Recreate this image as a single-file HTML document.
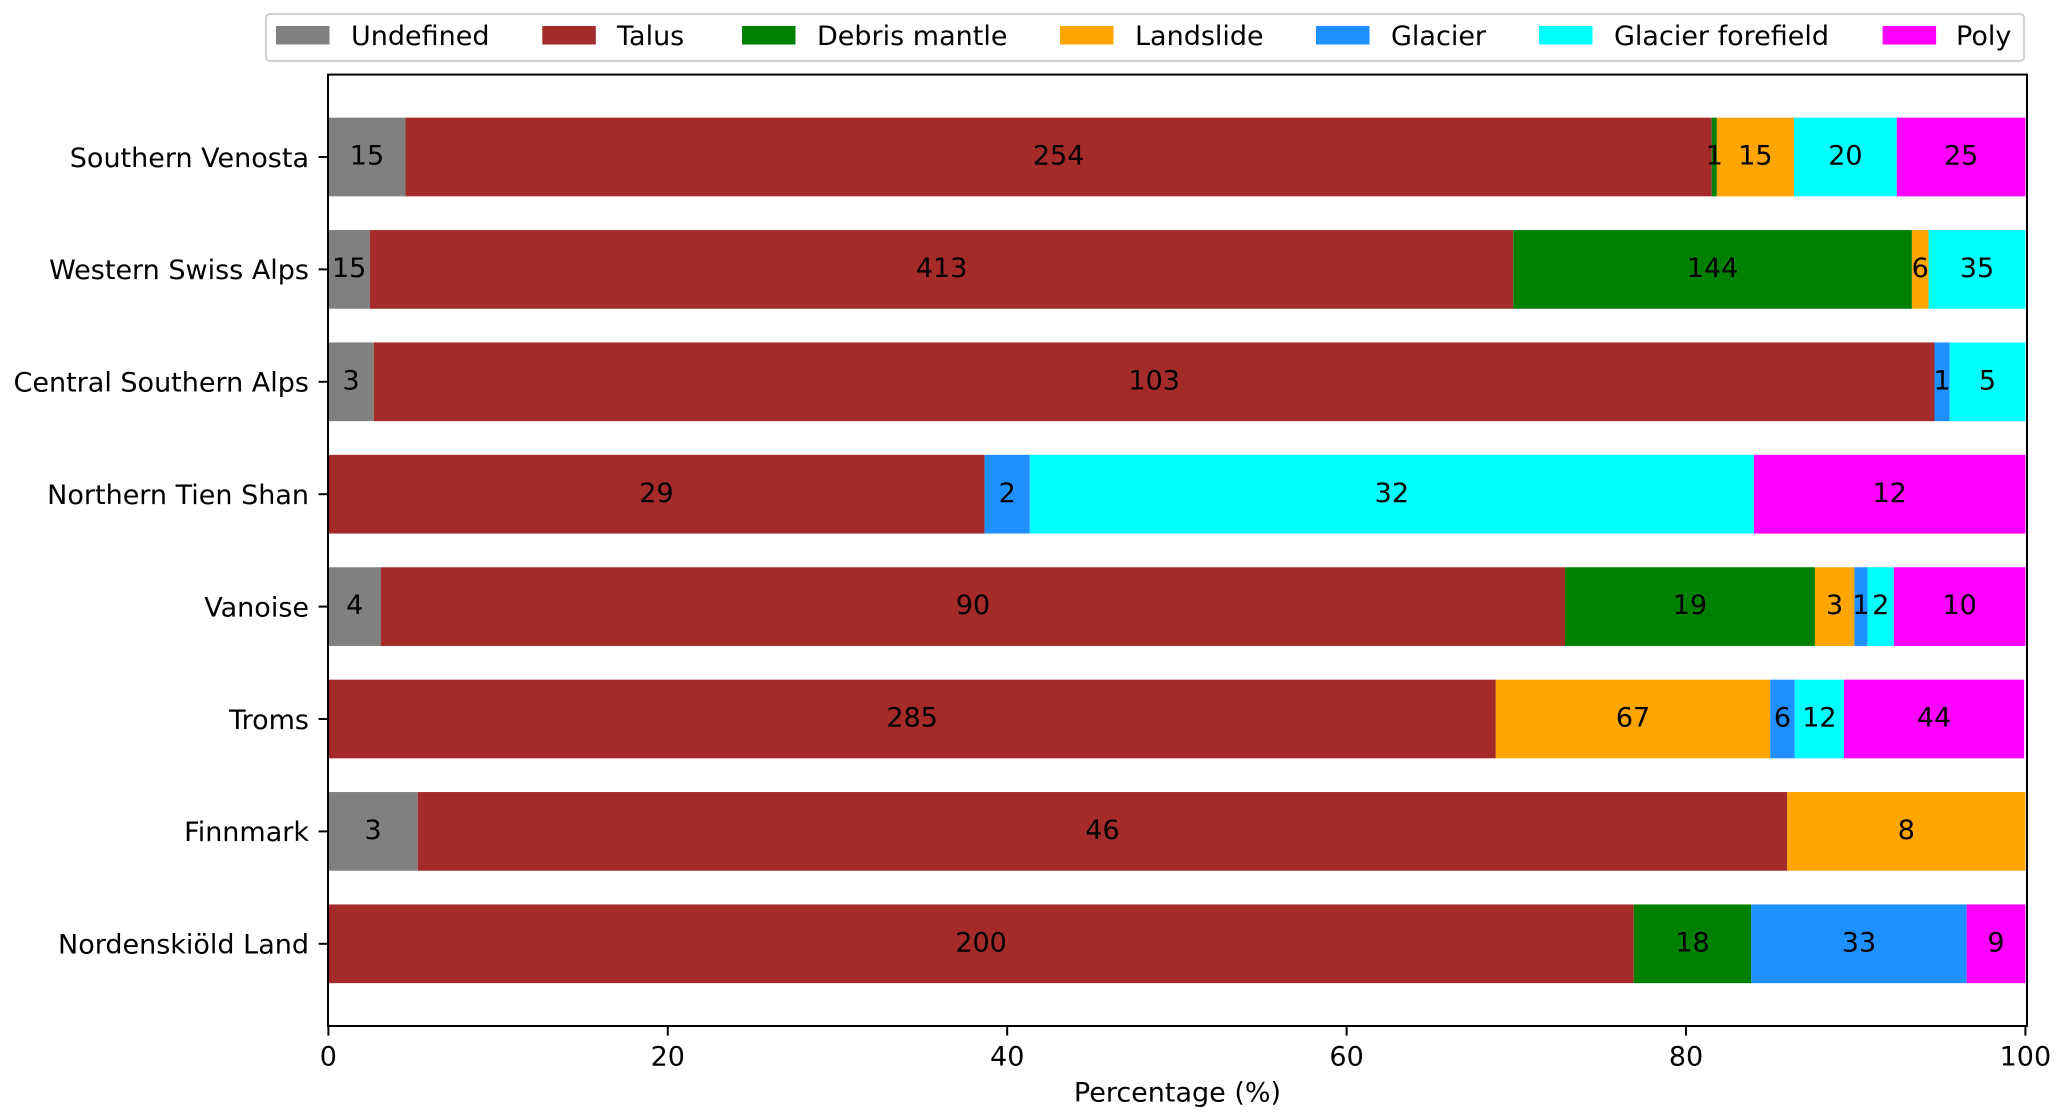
<!DOCTYPE html>
<html lang="en">
<head>
<meta charset="utf-8">
<title>Rock glacier upslope connection by region</title>
<style>
  html, body { margin: 0; padding: 0; background: #fff; }
  body { width: 2067px; height: 1120px; overflow: hidden; }
  svg { display: block; font-family: "DejaVu Sans", "Liberation Sans", sans-serif; }
  text { fill: #000; font-size: 27px; }
</style>
</head>
<body>
<svg id="chart" width="2067" height="1120" viewBox="0 0 2067 1120" xmlns="http://www.w3.org/2000/svg">
  <g id="plot"></g>
  <g>
    <rect x="266" y="14" width="1758" height="47" rx="4" ry="4" fill="#fff" stroke="#d2d2d2" stroke-width="2.2"/>
    <g>
      <rect x="276" y="26" width="53.5" height="18.5" fill="#808080"/>
      <text x="351" y="45">Undefined</text>
    </g>
    <g>
      <rect x="542.3" y="26" width="53.5" height="18.5" fill="#a52a2a"/>
      <text x="617" y="45">Talus</text>
    </g>
    <g>
      <rect x="742" y="26" width="53.5" height="18.5" fill="#008000"/>
      <text x="817" y="45">Debris mantle</text>
    </g>
    <g>
      <rect x="1060" y="26" width="53.5" height="18.5" fill="#ffa500"/>
      <text x="1135" y="45">Landslide</text>
    </g>
    <g>
      <rect x="1316" y="26" width="53.5" height="18.5" fill="#1e90ff"/>
      <text x="1391" y="45">Glacier</text>
    </g>
    <g>
      <rect x="1539" y="26" width="53.5" height="18.5" fill="#00ffff"/>
      <text x="1614" y="45">Glacier forefield</text>
    </g>
    <g>
      <rect x="1882.6" y="26" width="53.5" height="18.5" fill="#ff00ff"/>
      <text x="1956" y="45">Poly</text>
    </g>
  </g>
</svg>
<script>
const regions = ["Southern Venosta", "Western Swiss Alps", "Central Southern Alps", "Northern Tien Shan", "Vanoise", "Troms", "Finnmark", "Nordenskiöld Land"];
const undefinedCounts = [15, 15, 3, 0, 4, 0, 3, 0];
const talusCounts = [254, 413, 103, 29, 90, 285, 46, 200];
const debrisMantleCounts = [1, 144, 0, 0, 19, 0, 0, 18];
const landslideCounts = [15, 6, 0, 0, 3, 67, 8, 0];
const glacierCounts = [0, 0, 1, 2, 1, 6, 0, 33];
const forefieldCounts = [20, 35, 5, 32, 2, 12, 0, 0];
const polyCounts = [25, 0, 0, 12, 10, 44, 0, 9];
const unplottedCounts = [0, 0, 0, 0, 0, 0.3, 0, 0];
const seriesKeys = ["undefined", "talus", "debris-mantle", "landslide", "glacier", "glacier-forefield", "poly"];
const seriesColors = ["#808080", "#a52a2a", "#008000", "#ffa500", "#1e90ff", "#00ffff", "#ff00ff"];
const seriesValues = [undefinedCounts, talusCounts, debrisMantleCounts, landslideCounts, glacierCounts, forefieldCounts, polyCounts];
const xTickValues = [0, 20, 40, 60, 80, 100];
const xAxisTitle = "Percentage (%)";

const NS = "http://www.w3.org/2000/svg";
const plot = document.getElementById("plot");
const xScale = function (p) { return 328.4 + 16.97 * p; };
const yScale = function (i) { return 157 + 112.4 * i; };
const barHeight = 78.7;

function make(tag, attrs, content) {
  const el = document.createElementNS(NS, tag);
  Object.keys(attrs).forEach(function (k) { el.setAttribute(k, attrs[k]); });
  if (content !== undefined) el.textContent = content;
  plot.appendChild(el);
  return el;
}

regions.forEach(function (region, r) {
  let total = unplottedCounts[r];
  seriesValues.forEach(function (s) { total += s[r]; });
  let running = 0;
  seriesValues.forEach(function (s, k) {
    const value = s[r];
    if (value <= 0) return;
    const start = running / total * 100;
    running += value;
    const end = running / total * 100;
    const bar = make("rect", {
      x: xScale(start),
      y: yScale(r) - barHeight / 2,
      width: xScale(end) - xScale(start),
      height: barHeight,
      fill: seriesColors[k]
    });
    
    
  });
  running = 0;
  seriesValues.forEach(function (s, k) {
    const value = s[r];
    if (value <= 0) return;
    const start = running / total * 100;
    running += value;
    const end = running / total * 100;
    const label = make("text", {
      x: xScale((start + end) / 2),
      y: yScale(r) + 7.6,
      "text-anchor": "middle"
    }, String(value));
    
    
  });
  const tick = make("line", {
    x1: 318.6, x2: 328, y1: yScale(r), y2: yScale(r),
    stroke: "#000", "stroke-width": 2
  });
  
  
  const name = make("text", {
    x: 309, y: yScale(r) + 9.8, "text-anchor": "end"
  }, region);
  
  
});

xTickValues.forEach(function (v) {
  const tick = make("line", {
    x1: xScale(v), x2: xScale(v), y1: 1026, y2: 1035.6,
    stroke: "#000", "stroke-width": 2
  });
  
  
  const label = make("text", {
    x: xScale(v), y: 1065.7, "text-anchor": "middle"
  }, String(v));
  
  
});

const xTitle = make("text", { x: 1177.5, y: 1101.5, "text-anchor": "middle" }, xAxisTitle);



const frame = make("rect", {
  x: 328, y: 74.6, width: 1699, height: 951.4,
  fill: "none", stroke: "#000", "stroke-width": 2
});


</script>
</body>
</html>
